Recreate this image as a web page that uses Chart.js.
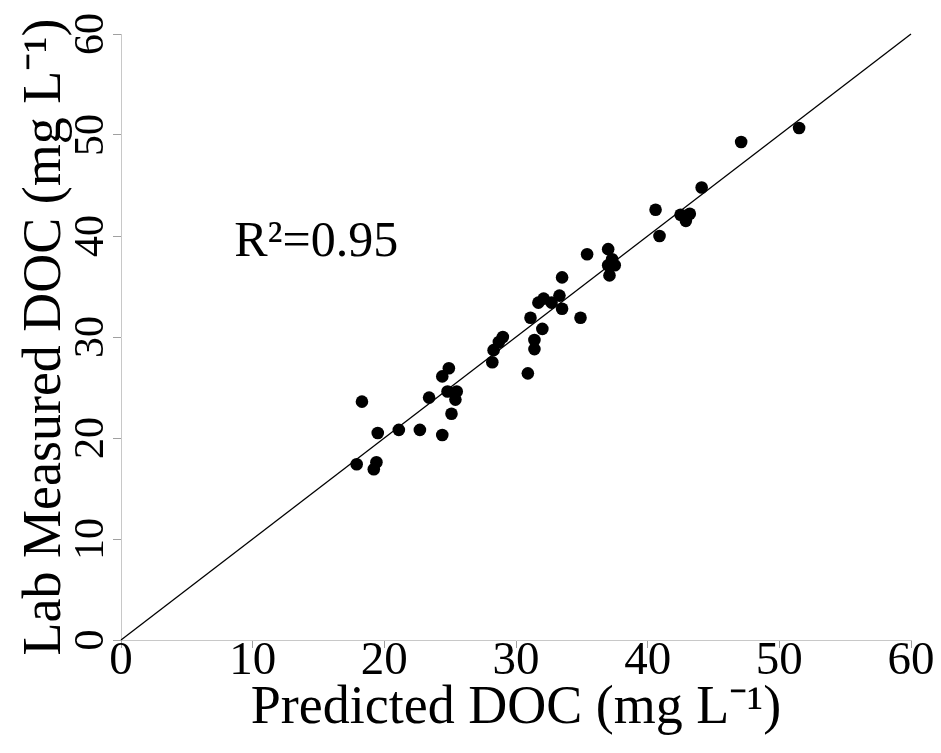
<!DOCTYPE html>
<html>
<head>
<meta charset="utf-8">
<script src="https://cdn.jsdelivr.net/npm/chart.js@4.4.1/dist/chart.umd.min.js"></script>
<style>
  html, body { margin: 0; padding: 0; background: #fff; }
  #wrap { width: 941px; height: 753px; }
</style>
</head>
<body>
<div id="wrap"><canvas id="chart"></canvas></div>
<script>
"use strict";

// predicted vs lab measured DOC (mg/L)
const predicted = [17.9, 18.3, 19.2, 19.4, 19.5, 21.1, 22.7, 23.4, 24.4, 24.4, 24.9, 24.8, 25.1, 25.4, 25.5,
	28.2, 28.3, 28.7, 29.0, 30.9, 31.1, 31.4, 31.4, 31.7, 32.0, 32.1, 32.7, 33.3, 33.5, 33.5, 34.9,
	35.4, 37.0, 37.3, 37.5, 37.0, 37.1, 40.6, 40.9, 42.5, 43.2, 42.9, 44.1, 47.1, 51.5];
const measured = [17.4, 23.6, 16.9, 17.6, 20.5, 20.8, 20.8, 24.0, 20.3, 26.1, 26.9, 24.6, 22.4, 23.8, 24.6,
	27.5, 28.7, 29.5, 30.0, 26.4, 31.9, 29.7, 28.8, 33.4, 30.8, 33.8, 33.4, 34.1, 35.9, 32.8, 31.9,
	38.2, 38.7, 37.7, 37.1, 37.1, 36.1, 42.6, 40.0, 42.1, 42.2, 41.5, 44.8, 49.3, 50.7];
const oneToOne = [0, 60];
const axisMin = 0;
const axisMax = 60;
const axisStep = 10;
const r2Label = "R\u00B2=0.95";
const r2Pos = [8.6, 38];

const serif = '"Liberation Serif", "Times New Roman", serif';

const points = predicted.map(function (p, i) {
	return { x: p, y: measured[i] };
});
const line = oneToOne.map(function (v) {
	return { x: v, y: v };
});

const r2Plugin = {
	id: 'r2Text',
	afterDatasetsDraw(chart) {
		const ctx = chart.ctx;
		const x = chart.scales.x.getPixelForValue(r2Pos[0]);
		const y = chart.scales.y.getPixelForValue(r2Pos[1]);
		ctx.save();
		ctx.font = '50px ' + serif;
		ctx.fillStyle = '#000';
		ctx.textAlign = 'left';
		ctx.textBaseline = 'alphabetic';
		ctx.fillText(r2Label, x, y);
		ctx.restore();
	}
};

new Chart(document.getElementById('chart'), {
	type: 'scatter',
	data: {
		datasets: [
			{
				type: 'line',
				data: line,
				borderColor: '#000',
				borderWidth: 1.3,
				pointRadius: 0,
				fill: false,
				clip: false
			},
			{
				data: points,
				backgroundColor: '#000',
				borderColor: '#000',
				pointRadius: 6.3,
				borderWidth: 0
			}
		]
	},
	options: {
		responsive: true,
		maintainAspectRatio: false,
		animation: false,
		layout: { padding: { top: 34, right: 30, left: 0, bottom: 0 } },
		plugins: {
			legend: { display: false },
			tooltip: { enabled: false }
		},
		scales: {
			x: {
				type: 'linear',
				min: axisMin,
				max: axisMax,
				afterFit(scale) { scale.height = 113; },
				border: { display: true, color: '#c8c8c8', width: 1 },
				grid: { drawOnChartArea: false, drawTicks: true, tickLength: 8, color: '#a0a0a0' },
				ticks: {
					stepSize: axisStep,
					color: '#000',
					padding: -10,
					maxRotation: 0,
					font: { family: serif, size: 47, lineHeight: 1 }
				},
				title: {
					display: true,
					text: 'Predicted DOC (mg L\u207B\u00B9)',
					color: '#000',
					font: { family: serif, size: 54, lineHeight: 1.2 },
					padding: { top: 0, bottom: 12 }
				}
			},
			y: {
				type: 'linear',
				min: axisMin,
				max: axisMax,
				afterFit(scale) { scale.width = 121; },
				border: { display: true, color: '#c8c8c8', width: 1 },
				grid: { drawOnChartArea: false, drawTicks: true, tickLength: 8, color: '#a0a0a0' },
				ticks: {
					stepSize: axisStep,
					color: '#000',
					padding: 0,
					minRotation: 90,
					maxRotation: 90,
					crossAlign: 'center',
					font: { family: serif, size: 42, lineHeight: 1 }
				},
				title: {
					display: true,
					text: 'Lab Measured DOC (mg L\u207B\u00B9)',
					color: '#000',
					font: { family: serif, size: 54, lineHeight: 1.2 },
					padding: { top: 13, bottom: 0 }
				}
			}
		}
	},
	plugins: [r2Plugin]
});
</script>
</body>
</html>
